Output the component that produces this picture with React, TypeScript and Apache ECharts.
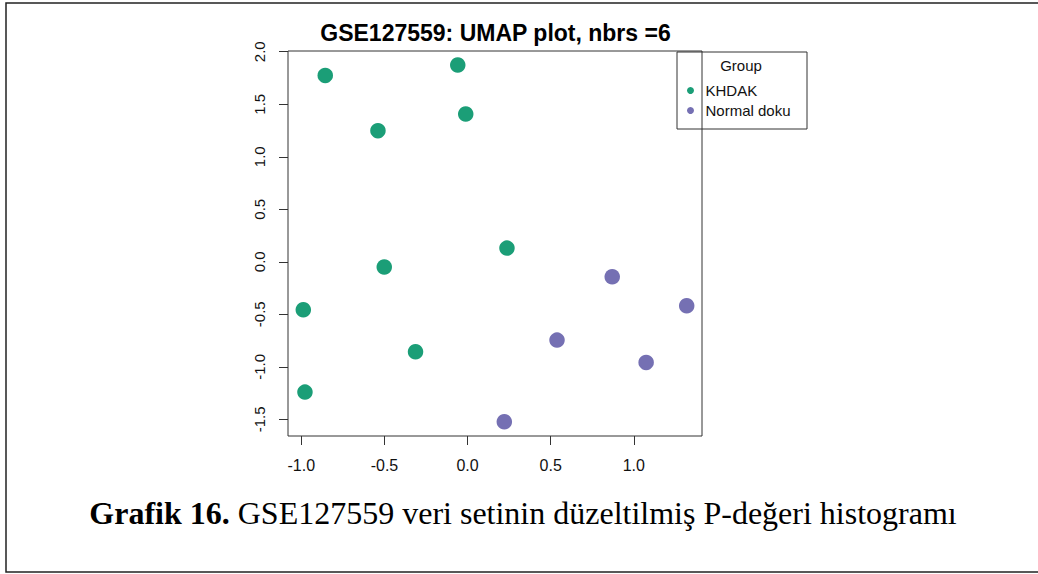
import React, { useEffect, useRef } from "react";
import * as echarts from "echarts";

const titleText = "GSE127559: UMAP plot, nbrs =6";
const captionBold = "Grafik 16.";
const captionRest = " GSE127559 veri setinin düzeltilmiş P-değeri histogramı";
const legendTitle = "Group";
const groupNames = ["KHDAK", "Normal doku"];
const groupColors = ["#1B9E77", "#7570B3"];

const khdakPoints: [number, number][] = [
  [-0.856, 1.774],
  [-0.059, 1.873],
  [-0.011, 1.407],
  [-0.539, 1.248],
  [0.237, 0.13],
  [-0.501, -0.05],
  [-0.988, -0.457],
  [-0.313, -0.857],
  [-0.978, -1.241],
];
const normalPoints: [number, number][] = [
  [0.87, -0.143],
  [1.318, -0.419],
  [0.538, -0.746],
  [1.074, -0.959],
  [0.221, -1.524],
];

const xTicks = [-1.0, -0.5, 0.0, 0.5, 1.0];
const yTicks = [-1.5, -1.0, -0.5, 0.0, 0.5, 1.0, 1.5, 2.0];
const xRange = [-1.08, 1.41];
const yRange = [-1.659, 2.007];

export default function App() {
  const ref = useRef<HTMLDivElement>(null);
  useEffect(() => {
    if (!ref.current) return;
    const chart = echarts.init(ref.current, null, { renderer: "svg" });
    const sans = "'Liberation Sans', Arial, Helvetica, sans-serif";
    const serif = "'Liberation Serif', 'Times New Roman', serif";
    chart.setOption({
      animation: false,
      backgroundColor: "#ffffff",
      grid: {
        left: 288,
        top: 51,
        right: 1038 - 702,
        bottom: 574 - 436,
        show: true,
        borderColor: "#333",
        borderWidth: 1,
        backgroundColor: "transparent",
      },
      xAxis: {
        type: "value",
        min: xRange[0],
        max: xRange[1],
        splitLine: { show: false },
        axisLine: { show: false, onZero: false },
        axisTick: {
          show: true,
          customValues: xTicks,
          length: 9,
          lineStyle: { color: "#333", width: 1 },
        },
        axisLabel: {
          customValues: xTicks,
          formatter: (v: number) => v.toFixed(1),
          fontFamily: sans,
          fontSize: 16,
          color: "#111",
          margin: 21,
        },
      },
      yAxis: {
        type: "value",
        min: yRange[0],
        max: yRange[1],
        splitLine: { show: false },
        axisLine: { show: false, onZero: false },
        axisTick: {
          show: true,
          customValues: yTicks,
          length: 9,
          lineStyle: { color: "#333", width: 1 },
        },
        axisLabel: {
          customValues: yTicks,
          formatter: (v: number) => v.toFixed(1),
          rotate: 90,
          fontFamily: sans,
          fontSize: 15,
          color: "#111",
          margin: 21,
        },
      },
      legend: {
        orient: "vertical",
        left: 687,
        top: 83,
        padding: 0,
        itemWidth: 20,
        itemHeight: 7,
        itemGap: 5,
        icon: "circle",
        textStyle: {
          fontFamily: sans,
          fontSize: 15,
          color: "#111",
          lineHeight: 15,
        },
        data: groupNames,
      },
      series: [
        {
          name: groupNames[0],
          type: "scatter",
          data: khdakPoints,
          symbolSize: 15.5,
          itemStyle: { color: groupColors[0], opacity: 1 },
        },
        {
          name: groupNames[1],
          type: "scatter",
          data: normalPoints,
          symbolSize: 15.5,
          itemStyle: { color: groupColors[1], opacity: 1 },
        },
      ],
      graphic: [
        {
          type: "rect",
          shape: { x: 6, y: 3, width: 1040, height: 569 },
          style: { fill: "none", stroke: "#222", lineWidth: 1.5 },
          silent: true,
        },
        {
          type: "rect",
          shape: { x: 677, y: 52, width: 130, height: 77 },
          style: { fill: "#fff", stroke: "#333", lineWidth: 1 },
          z: -1,
          silent: true,
        },
        {
          type: "text",
          x: 741,
          y: 65,
          style: {
            text: legendTitle,
            fontFamily: sans,
            fontSize: 15,
            fill: "#111",
            textAlign: "center",
            textVerticalAlign: "middle",
          },
        },
        {
          type: "text",
          x: 495.5,
          y: 33,
          style: {
            text: titleText,
            fontFamily: sans,
            fontSize: 23,
            fontWeight: "bold",
            fill: "#000",
            textAlign: "center",
            textVerticalAlign: "middle",
          },
        },
        {
          type: "text",
          x: 523,
          y: 513,
          style: {
            text: "{b|" + captionBold + "}{r|" + captionRest + "}",
            textAlign: "center",
            textVerticalAlign: "middle",
            rich: {
              b: { fontFamily: serif, fontSize: 32, fontWeight: "bold", fill: "#000" },
              r: { fontFamily: serif, fontSize: 32, fill: "#000" },
            },
          },
        },
      ],
    });
    return () => chart.dispose();
  }, []);
  return (
    <div
      ref={ref}
      style={{ position: "fixed", left: 0, top: 0, width: 1038, height: 574, background: "#fff" }}
    />
  );
}
